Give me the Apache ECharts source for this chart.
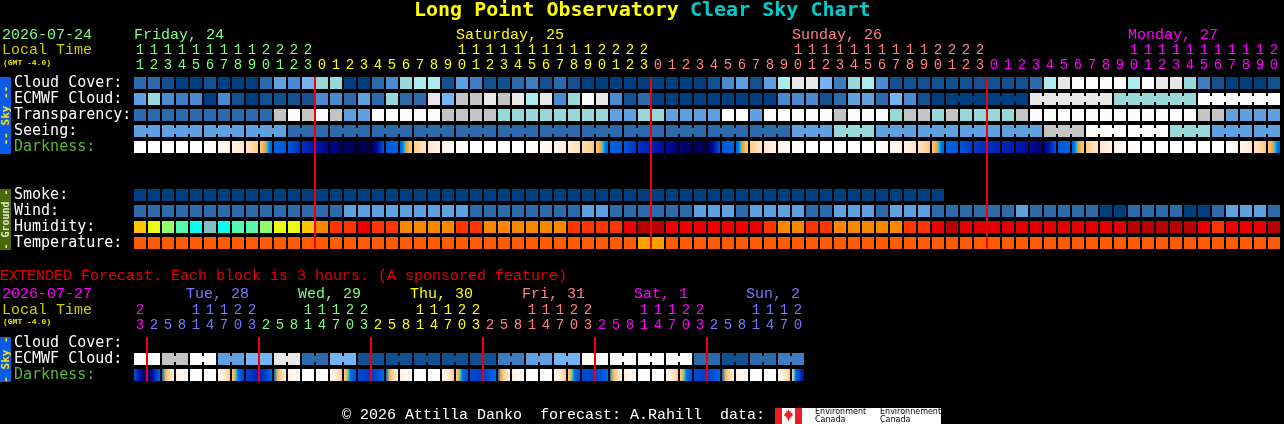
<!DOCTYPE html>
<html>
<head>
<meta charset="utf-8">
<title>Long Point Observatory Clear Sky Chart</title>
<script src="https://cdn.jsdelivr.net/npm/echarts@6/dist/echarts.min.js"></script>
<style>
html,body{margin:0;padding:0;background:#000;overflow:hidden}
#chart{width:1284px;height:424px}
</style>
</head>
<body>
<div id="chart"></div>
<script>
// ================= DATA =================
const mainHours = [11,12,13,14,15,16,17,18,19,20,21,22,23,
  0,1,2,3,4,5,6,7,8,9,10,11,12,13,14,15,16,17,18,19,20,21,22,23,
  0,1,2,3,4,5,6,7,8,9,10,11,12,13,14,15,16,17,18,19,20,21,22,23,
  0,1,2,3,4,5,6,7,8,9,10,11,12,13,14,15,16,17,18,19,20];
const mainDayNames = ['Friday, 24','Saturday, 25','Sunday, 26','Monday, 27'];
const mainDayColors = ['#80ff80','#ffff00','#ff8080','#ff00ff'];

const skyRowNames = ['Cloud Cover:','ECMWF Cloud:','Transparency:','Seeing:','Darkness:'];
const groundRowNames = ['Smoke:','Wind:','Humidity:','Temperature:'];
const extRowNames = ['Cloud Cover:','ECMWF Cloud:','Darkness:'];

// sky-condition class per hour (0 = clear/best ... 11 = overcast/too cloudy)
const cloudCover = [2,2,1,0,0,1,0,0,0,2,5,4,6,7,7,0,0,2,4,7,8,
  8,1,5,3,1,1,2,3,1,2,1,0,0,0,0,0,0,0,0,0,1,4,5,1,5,8,10,10,6,3,
  7,8,4,1,1,1,1,1,1,1,1,1,1,2,8,10,11,11,11,11,8,11,10,10,7,3,1,0,0,0,1];
const ecmwfCloud = [5,7,4,3,4,0,4,1,0,1,1,1,1,4,4,2,5,2,7,2,2,
  10,6,9,9,10,9,10,8,10,4,7,11,10,4,1,2,0,0,0,0,0,0,0,0,0,4,4,4,1,2,
  5,5,2,6,4,1,0,0,0,0,0,0,0,10,10,10,10,10,10,7,7,7,7,7,7,11,11,11,11,11,11];
const ecmwfSpans = [[58,60],[61,63],[64,69],[70,75],[76,81]];
const transparency = [2,2,2,2,2,2,2,2,2,2,9,11,9,11,9,5,5,11,11,11,11,11,9,9,9,9,
  7,7,7,7,7,7,7,7,5,5,7,7,5,5,5,5,11,11,5,11,11,11,11,11,9,11,11,11,7,9,9,7,9,
  7,7,7,7,9,11,11,11,11,11,11,11,11,11,11,11,11,9,9,5,5,5,5];
const seeing = [5,5,5,5,5,5,5,5,5,5,5,
  2,2,2,2,2,2,2,2,2,2,2,2,
  2,2,2,2,2,2,2,2,2,2,2,2,
  2,2,2,2,2,2,2,2,2,2,2,2,
  5,5,5,7,7,7,
  5,5,5,5,5,5,5,5,5,5,5,5,
  9,9,9,11,11,11,11,11,11,7,7,7,5,5,5,5,5];
// darkness level at each hour boundary (0 = daylight, 1 = full dark)
const darknessLevel = [0,0,0,0,0,0,0.03,0.1,0.2,0.3,
  0.47,0.52,0.64,0.74,0.86,0.94,1.0,0.98,0.52,0.47,
  0.3,0.19,0.1,0.03,0,0,0,0,0,0.02,
  0.07,0.15,0.23,0.31,0.47,0.52,0.64,0.7,0.8,0.9,
  0.96,0.98,0.52,0.47,0.3,0.18,0.1,0.03,0,0,
  0,0,0,0,0.03,0.1,0.2,0.31,0.47,0.52,
  0.62,0.66,0.69,0.73,0.8,0.9,0.52,0.47,0.3,0.18,
  0.1,0.03,0,0,0,0,0,0,0,0.07,
  0.19,0.31,0.47];

const smoke = [0,0,0,0,0,0,0,0,0,0,0,0,0,0,0,0,0,0,0,0,0,0,0,0,0,0,0,0,0,
  0,0,0,0,0,0,0,0,0,0,0,0,0,0,0,0,0,0,0,0,0,0,0,0,0,0,0,0,0];
const wind = [2,2,2,2,2,2,2,2,2,2,2,2,2,2,2,5,5,5,5,5,5,5,5,5,2,2,2,2,2,2,2,2,
  5,5,2,2,2,2,2,2,5,5,5,2,5,5,5,5,2,2,5,5,5,2,5,5,5,2,2,2,2,2,2,5,2,2,2,2,2,
  0,0,2,2,2,2,0,0,2,5,5,5,2];
const humidity = [75,70,65,60,55,50,55,60,60,65,70,70,75,80,85,85,90,85,85,80,80,
  80,80,85,85,80,80,80,80,80,80,85,85,85,85,90,95,95,90,90,90,90,90,90,90,85,80,80,85,85,80,
  80,80,80,80,85,85,90,95,100,100,100,100,100,100,100,100,100,100,100,100,95,95,95,95,95,90,85,90,90,90,95];
const temperature = [24,24,24,24,24,24,24,24,24,24,24,24,24,24,24,24,24,24,24,24,24,24,24,24,24,24,24,24,24,24,24,24,24,24,24,24,
  22,22,
  24,24,24,24,24,24,24,24,24,24,24,24,24,24,24,24,24,24,24,24,24,24,24,24,24,24,24,24,24,24,24,24,24,24,24,24,24,24,24,24,24,24,24,24];

const extHours = [23, 2,5,8,11,14,17,20,23, 2,5,8,11,14,17,20,23, 2,5,8,11,14,17,20,23,
  2,5,8,11,14,17,20,23, 2,5,8,11,14,17,20,23, 2,5,8,11,14,17,20];
const extDayNames = ['', 'Tue, 28','Wed, 29','Thu, 30','Fri, 31','Sat, 1','Sun, 2'];
const extDayColors = ['#ff00ff','#7878ff','#78ff78','#ffff00','#ff8080','#ff00ff','#7878ff'];
const extEcmwf = [11,11,9,9,11,11,5,5,6,6,10,10,2,2,6,6,1,1,1,1,1,1,1,1,1,1,3,3,5,5,6,6,
  11,11,11,11,11,11,11,11,2,2,1,1,2,2,3,3];
const extDarknessLevel = [0.55,0.95,0.46,0.12,0,0,0.03,0.3,0.58,
  0.7,0.46,0.12,0,0,0.03,0.3,0.56,
  0.62,0.46,0.12,0,0,0.03,0.3,0.56,
  0.6,0.45,0.12,0,0,0.03,0.3,0.56,
  0.58,0.44,0.12,0,0,0.03,0.3,0.56,
  0.6,0.46,0.12,0,0,0.03,0.3,0.8];

// ================= STYLE =================
const SKY_PAL = ['#003f7f','#13508f','#2c6aac','#3f7dc0','#4a8ad0','#5fa0e0','#72b4f4',
  '#99d8d8','#adecec','#c4c4c4','#e8e8e8','#fcfcfc'];
const HUM_PAL = {50:'#80c0c0',55:'#09feed',60:'#55faad',65:'#94fe6a',70:'#eafb16',75:'#fec600',
  80:'#fc8602',85:'#fe3401',90:'#ea0000',95:'#b70000',100:'#e10000'};
const tempColor = t => t <= 22 ? '#ffa200' : '#ff5c00';
const DARK_RAMP = [[0,'#ffffff'],[0.06,'#fff7ee'],[0.14,'#ffeedc'],[0.22,'#ffe0b8'],[0.30,'#ffcc88'],
  [0.355,'#f9b048'],[0.385,'#f09a20'],[0.40,'#10c8f8'],[0.42,'#0096f0'],[0.45,'#0068e0'],
  [0.52,'#0058d8'],[0.60,'#0040c8'],[0.68,'#0028b8'],[0.76,'#0014a4'],[0.84,'#00088c'],
  [0.92,'#000070'],[1.0,'#00004c']];
const LMONO = "'Liberation Mono','DejaVu Sans Mono',monospace";
const DMONO = "'DejaVu Sans Mono',monospace";
const RED = '#f00000';

function hex2rgb(h){return [parseInt(h.substr(1,2),16),parseInt(h.substr(3,2),16),parseInt(h.substr(5,2),16)];}
function rampColor(l){
  for(let k=1;k<DARK_RAMP.length;k++){
    if(l<=DARK_RAMP[k][0]){
      const a=DARK_RAMP[k-1], b=DARK_RAMP[k];
      const t=(l-a[0])/(b[0]-a[0]); const ca=hex2rgb(a[1]), cb=hex2rgb(b[1]);
      return 'rgb('+ca.map((v,j)=>Math.round(v+(cb[j]-v)*t)).join(',')+')';
    }
  }
  return DARK_RAMP[DARK_RAMP.length-1][1];
}
function darkFill(a,b){
  if(Math.abs(a-b)<1e-6) return rampColor(a);
  const stops=[{offset:0,color:rampColor(a)},{offset:1,color:rampColor(b)}];
  const lo=Math.min(a,b), hi=Math.max(a,b);
  DARK_RAMP.forEach(s=>{ if(s[0]>lo && s[0]<hi) stops.push({offset:(s[0]-a)/(b-a),color:s[1]}); });
  stops.sort((p,q)=>p.offset-q.offset);
  return {type:'linear',x:0,y:0,x2:1,y2:0,colorStops:stops};
}

// ================= BUILD ITEMS =================
function dayIndex(hours){ const r=[]; let d=0; hours.forEach((h,i)=>{ if(i>0&&h<hours[i-1]) d++; r.push(d); }); return r; }
const mainDay = dayIndex(mainHours);
const extDay = dayIndex(extHours);
const mainMidnights = mainHours.map((h,i)=>i>0&&h<mainHours[i-1]?i:-1).filter(i=>i>=0);
const extMidnights = extHours.map((h,i)=>i>0&&h<extHours[i-1]?i:-1).filter(i=>i>=0);
function dayLabelCols(hours, days, names, colors){
  const out=[];
  names.forEach((n,d)=>{ if(!n) return; const i=hours.findIndex((h,k)=>days[k]===d&&h>=10); if(i>=0) out.push({col:i,name:n,color:colors[d]}); });
  return out;
}
const mainDayLabels = dayLabelCols(mainHours, mainDay, mainDayNames, mainDayColors);
const extDayLabels = dayLabelCols(extHours, extDay, extDayNames, extDayColors);

const inSpan = (i,spans)=>spans.some(s=>i>=s[0]&&i<s[1]);
const skyItems=[];
cloudCover.forEach((v,i)=>skyItems.push({col:i,row:0,color:SKY_PAL[v],join:false}));
ecmwfCloud.forEach((v,i)=>skyItems.push({col:i,row:1,color:SKY_PAL[v],join:inSpan(i,ecmwfSpans)}));
transparency.forEach((v,i)=>skyItems.push({col:i,row:2,color:SKY_PAL[v],join:false}));
seeing.forEach((v,i)=>skyItems.push({col:i,row:3,color:SKY_PAL[v],join:i+1<seeing.length&&mainHours[i+1]%3!==1}));
const groundItems=[];
smoke.forEach((v,i)=>groundItems.push({col:i,row:0,color:SKY_PAL[v],join:false}));
wind.forEach((v,i)=>groundItems.push({col:i,row:1,color:SKY_PAL[v],join:false}));
humidity.forEach((v,i)=>groundItems.push({col:i,row:2,color:HUM_PAL[v],join:false}));
temperature.forEach((v,i)=>groundItems.push({col:i,row:3,color:tempColor(v),join:false}));
const extItems=[];
extEcmwf.forEach((v,i)=>extItems.push({col:i,row:1,color:SKY_PAL[v],join:i%2===0}));
const mainDark = mainHours.map((h,i)=>({col:i,row:4,a:darknessLevel[i],b:darknessLevel[i+1]}));
const extDark = extHours.map((h,i)=>({col:i,row:2,a:extDarknessLevel[i],b:extDarknessLevel[i+1]}));

// ================= RENDERERS =================
function blockSeries(items, gi){
  return {type:'custom', xAxisIndex:gi, yAxisIndex:gi, clip:false, silent:true,
    data: items.map(it=>[it.col,it.row]), encode:{x:0,y:1},
    renderItem(params, api){
      const it=items[params.dataIndex];
      const c=api.coord([it.col,it.row]);
      const bw=api.size([1,0])[0], bh=api.size([0,1])[1];
      const w=bw-2, h=bh-4, x=c[0]-w/2, y=c[1]-h/2;
      const ch=[{type:'rect',shape:{x:x,y:y,width:w,height:h},style:{fill:it.color}}];
      if(it.join) ch.push({type:'rect',shape:{x:x+w,y:y+3,width:bw-w,height:h-6},style:{fill:it.color}});
      return {type:'group',children:ch};
    }};
}
function darkSeries(items, gi){
  return {type:'custom', xAxisIndex:gi, yAxisIndex:gi, clip:false, silent:true,
    data: items.map(it=>[it.col,it.row]), encode:{x:0,y:1},
    renderItem(params, api){
      const it=items[params.dataIndex];
      const c=api.coord([it.col,it.row]);
      const bw=api.size([1,0])[0], bh=api.size([0,1])[1];
      const w=bw-2, h=bh-4;
      return {type:'rect',shape:{x:c[0]-w/2,y:c[1]-h/2,width:w,height:h},style:{fill:darkFill(it.a,it.b)}};
    }};
}
function redLineSeries(cols, gi, rows){
  return {type:'custom', xAxisIndex:gi, yAxisIndex:gi, clip:false, silent:true, z:5,
    data: cols.map(c=>[c,0]), encode:{x:0,y:1},
    renderItem(params, api){
      const c=api.coord([cols[params.dataIndex],0]);
      const bw=api.size([1,0])[0], bh=api.size([0,1])[1];
      return {type:'rect',shape:{x:c[0]-bw/2-1,y:c[1]-bh/2+2,width:2,height:bh*rows-4},style:{fill:RED}};
    }};
}
function dayLabelSeries(labels, gi, dy, dx){
  return {type:'custom', xAxisIndex:gi, yAxisIndex:gi, clip:false, silent:true,
    data: labels.map(l=>[l.col,0]), encode:{x:0,y:1},
    renderItem(params, api){
      const l=labels[params.dataIndex];
      const c=api.coord([l.col,0]);
      return {type:'text',x:c[0]-6+dx,y:c[1]-dy,style:{text:l.name,fill:l.color,font:'15px '+LMONO,align:'left',verticalAlign:'middle',textAlign:'left',textVerticalAlign:'middle'}};
    }};
}
function hourAxis(hours, days, colors, gi, show, margin){
  return {type:'category', gridIndex:gi, position:'top', data:hours.map((h,i)=>String(i)),
    axisLine:{show:false}, axisTick:{show:false}, splitLine:{show:false},
    axisLabel:{show:show, interval:0, margin:margin, fontFamily:LMONO, fontSize:14, lineHeight:15,
      color:(v,i)=>colors[days[i]],
      formatter:(v,i)=>{const h=hours[i]; return (h>=10?String(Math.floor(h/10)):'\u00a0')+'\n'+(h%10);}}};
}
function rowAxis(names, gi){
  return {type:'category', gridIndex:gi, inverse:true, data:names,
    axisLine:{show:false}, axisTick:{show:false}, splitLine:{show:false},
    axisLabel:{interval:0, align:'left', margin:119, fontFamily:DMONO, fontSize:15,
      color:(v)=>v==='Darkness:'?'#5ab83a':'#ffffff'}};
}
function T(x,y,text,fill,font,extra){
  return Object.assign({type:'text',x:x,y:y,silent:true,
    style:{text:text,fill:fill,font:font,align:'left',verticalAlign:'middle',textAlign:'left',textVerticalAlign:'middle'}}, extra||{});
}
function RT(x,y,text,fill,font){
  return {type:'text',x:x,y:y,rotation:Math.PI/2,silent:true,z:10,
    style:{text:text,fill:fill,font:font,align:'center',verticalAlign:'middle',textAlign:'center',textVerticalAlign:'middle'}};
}
function R(x,y,w,h,fill){ return {type:'rect',silent:true,shape:{x:x,y:y,width:w,height:h},style:{fill:fill}}; }

const graphics = [
  T(414,11,'Long Point Observatory','#ffff00','bold 20px '+DMONO),
  T(690,11,'Clear Sky Chart','#00cccc','bold 20px '+DMONO),
  T(2,35,'2026-07-24','#80ff80','15px '+LMONO),
  T(2,50.5,'Local Time','#cccc00','15px '+LMONO),
  T(3,62.5,'(GMT -4.0)','#e6e600','bold 8px '+LMONO),
  R(0,77,11,77,'#0a5ce8'), RT(6,115.5,'-- Sky --','#ffe600','bold 11px '+DMONO),
  R(0,189,11,61,'#4a6a08'), RT(6,219.5,'- Ground -','#e8e8d0','bold 10px '+DMONO),
  T(0,276,'EXTENDED Forecast. Each block is 3 hours. (A sponsored feature)','#e80000','15px '+LMONO),
  T(2,294,'2026-07-27','#ff00ff','15px '+LMONO),
  T(2,310,'Local Time','#cccc00','15px '+LMONO),
  T(3,322,'(GMT -4.0)','#e6e600','bold 8px '+LMONO),
  R(0,337,11,45,'#0a5ce8'), RT(6,359.5,'- Sky -','#ffe600','bold 11px '+DMONO),
  T(342,415,'\u00a9 2026 Attilla Danko  forecast: A.Rahill  data:','#ffffff','15px '+LMONO),
  R(775,408,166,16,'#ffffff'), R(775,408,7,16,'#ee1c25'), R(795,408,7,16,'#ee1c25'),
  {type:'polygon',silent:true,shape:{points:[[788.5,409.5],[789.5,411.5],[791,411],[790.5,413.5],[792.5,412.5],[792,414.5],[793.5,415],[790,417.5],[790.5,419],[789,418.5],[789,421],[788,421],[788,418.5],[786.5,419],[787,417.5],[783.5,415],[785,414.5],[784.5,412.5],[786.5,413.5],[786,411],[787.5,411.5]]},style:{fill:'#ee1c25'}},
  T(815,412,'Environment','#000000','8px "DejaVu Sans",sans-serif'),
  T(815,419.5,'Canada','#000000','8px "DejaVu Sans",sans-serif'),
  T(880,412,'Environnement','#000000','8px "DejaVu Sans",sans-serif'),
  T(880,419.5,'Canada','#000000','8px "DejaVu Sans",sans-serif')
];

const option = {
  backgroundColor:'#000000',
  animation:false,
  grid:[
    {left:133, top:75, width:mainHours.length*14, height:skyRowNames.length*16, containLabel:false},
    {left:133, top:187, width:mainHours.length*14, height:groundRowNames.length*16, containLabel:false},
    {left:133, top:335, width:extHours.length*14, height:extRowNames.length*16, containLabel:false}
  ],
  xAxis:[
    hourAxis(mainHours, mainDay, mainDayColors, 0, true, 2),
    hourAxis(mainHours, mainDay, mainDayColors, 1, false, 2),
    hourAxis(extHours, extDay, extDayColors, 2, true, 2.5)
  ],
  yAxis:[ rowAxis(skyRowNames,0), rowAxis(groundRowNames,1), rowAxis(extRowNames,2) ],
  series:[
    blockSeries(skyItems,0),
    darkSeries(mainDark,0),
    blockSeries(groundItems,1),
    blockSeries(extItems,2),
    darkSeries(extDark,2),
    redLineSeries(mainMidnights,0,11),
    redLineSeries(extMidnights,2,3),
    dayLabelSeries(mainDayLabels,0,48,0),
    dayLabelSeries(extDayLabels,2,49,-4)
  ],
  graphic:graphics
};
const chart = echarts.init(document.getElementById('chart'), null, {renderer:'canvas', width:1284, height:424});
chart.setOption(option);
</script>
</body>
</html>
